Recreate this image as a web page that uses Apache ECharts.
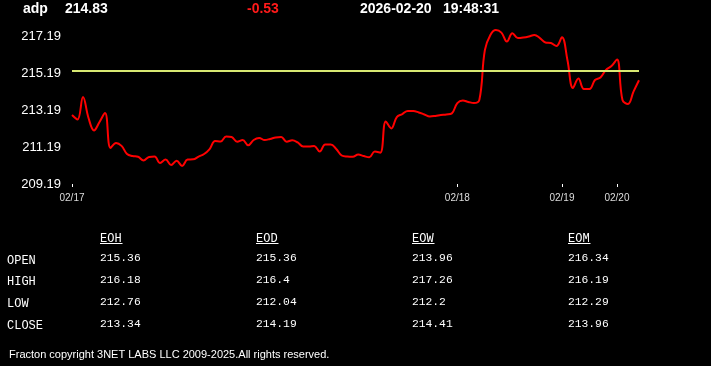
<!DOCTYPE html>
<html>
<head>
<meta charset="utf-8">
<script src="https://cdn.jsdelivr.net/npm/echarts@6/dist/echarts.min.js"></script>
<style>
html,body{margin:0;padding:0;background:#000;}
#c{width:711px;height:366px;}
</style>
</head>
<body>
<div id="c"></div>
<script>
// ---- data ----
var symbol = 'adp';
var lastPrice = '214.83';
var change = '-0.53';
var dateStr = '2026-02-20';
var timeStr = '19:48:31';
var prevClose = 215.36;

var dayLabels = ['02/17', '02/18', '02/19', '02/20'];
var dayStart = [0, 70, 89, 99];

var prices = [
  212.94, 212.70, 213.92, 212.78, 212.10, 212.56, 213.05, 211.15, 211.42, 211.26,
  210.82, 210.71, 210.67, 210.47, 210.66, 210.68, 210.33, 210.52, 210.22, 210.46,
  210.17, 210.52, 210.53, 210.68, 210.82, 211.09, 211.53, 211.50, 211.77, 211.74,
  211.49, 211.58, 211.29, 211.58, 211.69, 211.58, 211.64, 211.72, 211.74, 211.49,
  211.57, 211.45, 211.23, 211.23, 211.26, 210.95, 211.34, 211.34, 211.09, 210.74,
  210.68, 210.67, 210.79, 210.71, 210.64, 210.96, 210.89, 212.59, 212.21, 212.83,
  212.99, 213.16, 213.16, 213.08, 212.97, 212.86, 212.89, 212.94, 212.97, 213.03,
  213.59, 213.73, 213.65, 213.59, 213.76, 216.47, 217.29, 217.56, 217.42, 216.93,
  217.38, 217.12, 217.15, 217.21, 217.29, 217.12, 216.88, 216.85, 216.69, 217.16,
  215.93, 214.41, 214.93, 214.35, 214.35, 214.84, 214.98, 215.39, 215.60, 215.96,
  213.76, 213.54, 214.21, 214.83
];

var yTicks = [209.19, 211.19, 213.19, 215.19, 217.19];
var yMin = 209.19;
var yMax = 218.19;

var tableCols = ['EOH', 'EOD', 'EOW', 'EOM'];
var rowLabels = ['OPEN', 'HIGH', 'LOW', 'CLOSE'];
var openVals = ['215.36', '215.36', '213.96', '216.34'];
var highVals = ['216.18', '216.4', '217.26', '216.19'];
var lowVals = ['212.76', '212.04', '212.2', '212.29'];
var closeVals = ['213.34', '214.19', '214.41', '213.96'];
var footer = 'Fracton copyright 3NET LABS LLC 2009-2025.All rights reserved.';

// ---- build ----
var categories = [];
for (var i = 0; i < prices.length; i++) {
  var d = 0;
  for (var k = 0; k < dayStart.length; k++) if (i >= dayStart[k]) d = k;
  categories.push(dayLabels[d] + '#' + i);
}
function isDayStart(idx) { return dayStart.indexOf(idx) >= 0; }

var sans = 'Liberation Sans';
var mono = 'Liberation Mono';

var graphics = [];
function txt(x, y, s, opt) {
  opt = opt || {};
  graphics.push({
    type: 'text', x: x, y: y, silent: true,
    style: {
      text: s, fill: opt.fill || '#fff',
      font: (opt.weight || 'normal') + ' ' + (opt.size || 14) + 'px "' + (opt.family || sans) + '"',
      textVerticalAlign: 'middle', textAlign: opt.align || 'left'
    }
  });
}
txt(23, 9, symbol, {weight: 'bold'});
txt(65, 9, lastPrice, {weight: 'bold'});
txt(247, 9, change, {weight: 'bold', fill: '#ff1a1a'});
txt(360, 9, dateStr, {weight: 'bold'});
txt(443, 9, timeStr, {weight: 'bold'});

var colX = [100, 256, 412, 568];
var labelY = [260.5, 281.5, 303.5, 325.5];
var valueY = [258.5, 280, 302, 324];
var rows = [openVals, highVals, lowVals, closeVals];
for (var c = 0; c < tableCols.length; c++) {
  txt(colX[c], 238.5, tableCols[c], {family: mono, size: 12});
  graphics.push({
    type: 'line', silent: true,
    shape: {x1: colX[c], y1: 243.5, x2: colX[c] + tableCols[c].length * 7.5, y2: 243.5},
    style: {stroke: '#fff', lineWidth: 1}
  });
}
for (var r = 0; r < rowLabels.length; r++) {
  txt(7, labelY[r], rowLabels[r], {family: mono, size: 12});
  for (var c2 = 0; c2 < tableCols.length; c2++) {
    txt(colX[c2], valueY[r], rows[r][c2], {family: mono, size: 11.3});
  }
}
txt(9, 355, footer, {size: 11});

var chart = echarts.init(document.getElementById('c'));
chart.setOption({
  backgroundColor: '#000',
  animation: false,
  grid: {left: 72, right: 72, top: 18.4, bottom: 182, containLabel: false},
  xAxis: {
    type: 'category',
    data: categories,
    boundaryGap: false,
    axisLine: {show: false},
    axisTick: {
      show: true, length: 3,
      interval: function (idx) { return isDayStart(idx); },
      lineStyle: {color: '#fff', width: 1}
    },
    axisLabel: {
      interval: function (idx) { return isDayStart(idx); },
      formatter: function (v) { return v.split('#')[0]; },
      color: '#ddd', fontSize: 10, fontFamily: sans, margin: 9
    },
    splitLine: {show: false}
  },
  yAxis: {
    type: 'value',
    min: yMin, max: yMax,
    axisLine: {show: false},
    axisTick: {show: false},
    splitLine: {show: false},
    axisLabel: {
      customValues: yTicks,
      formatter: function (v) { return Number(v).toFixed(2); },
      color: '#fff', fontSize: 13, fontFamily: sans, margin: 11
    }
  },
  series: [{
    type: 'line',
    data: prices,
    smooth: 0.4,
    showSymbol: false,
    lineStyle: {color: '#ff0000', width: 2},
    silent: true,
    markLine: {
      silent: true,
      symbol: ['none', 'none'],
      label: {show: false},
      lineStyle: {color: '#d8e872', width: 2, type: 'solid'},
      data: [{yAxis: prevClose}]
    }
  }],
  graphic: graphics
});
</script>
</body>
</html>
